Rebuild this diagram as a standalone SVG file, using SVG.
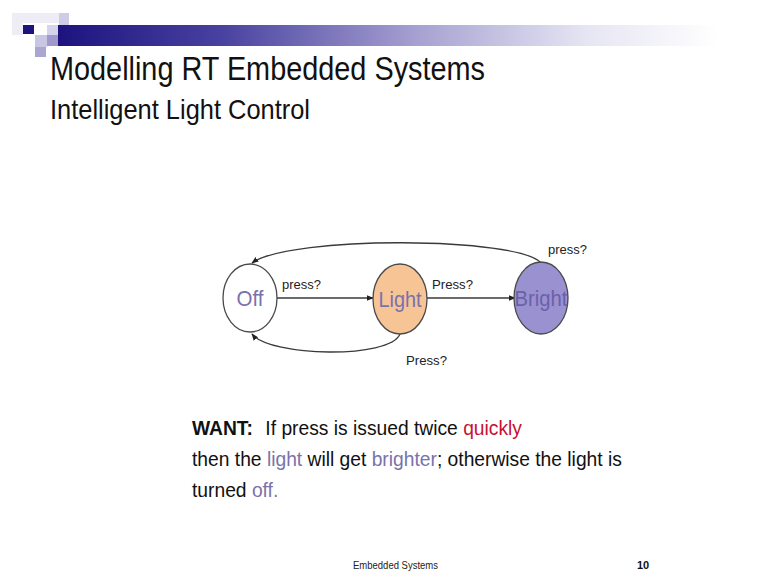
<svg xmlns="http://www.w3.org/2000/svg" width="767" height="578" viewBox="0 0 767 578">
  <defs>
    <linearGradient id="barGrad" x1="0" y1="0" x2="1" y2="0">
      <stop offset="0" stop-color="#1c137f"/>
      <stop offset="0.25" stop-color="#4a42a0"/>
      <stop offset="0.55" stop-color="#a7a3d2"/>
      <stop offset="0.8" stop-color="#e6e5f3"/>
      <stop offset="1" stop-color="#ffffff"/>
    </linearGradient>
    <marker id="arrow" viewBox="0 0 10 10" refX="9" refY="5" markerWidth="7" markerHeight="7" markerUnits="userSpaceOnUse" orient="auto">
      <path d="M0,1 L10,5 L0,9 Z" fill="#222"/>
    </marker>
    <style>
      .state { stroke: #4a4a4a; stroke-width: 1.3; }
      .stateLabel { font-family: "Liberation Sans", Arial, sans-serif; font-size: 22px; text-anchor: middle; }
      .edge { fill: none; stroke: #3a3a3a; stroke-width: 1.3; marker-end: url(#arrow); }
      .edgeLabel { font-family: "Liberation Sans", Arial, sans-serif; font-size: 13.5px; fill: #222; }
      .body { font-family: "Liberation Sans", Arial, sans-serif; font-size: 21px; fill: #111; }
      .accent { fill: #7a72ac; }
      .warn { fill: #c8112f; }
    </style>
  </defs>

  <rect width="767" height="578" fill="#ffffff"/>

  <!-- header decoration -->
  <g id="header">
    <rect x="12" y="13" width="48" height="10" fill="#eeedf6"/>
    <rect x="12" y="13" width="11" height="22" fill="#eeedf6"/>
    <rect x="59" y="13" width="10" height="12" fill="#cfcce6"/>
    <rect x="58" y="25" width="660" height="21" fill="url(#barGrad)"/>
    <rect x="23" y="25" width="11" height="9" fill="#1c137f"/>
    <rect x="47" y="25" width="11" height="10" fill="#d6d4ea"/>
    <rect x="35" y="35" width="12" height="12" fill="#c9c6e3"/>
    <rect x="47" y="35" width="11" height="11" fill="#9f9acb"/>
    <rect x="35" y="47" width="11" height="10" fill="#aaa5d1"/>
  </g>

  <g id="title">
    <text x="50" y="80" font-family="'Liberation Sans', Arial, sans-serif" font-size="34" fill="#111" textLength="435" lengthAdjust="spacingAndGlyphs">Modelling RT Embedded Systems</text>
    <text x="50" y="119" font-family="'Liberation Sans', Arial, sans-serif" font-size="28" fill="#111" textLength="260" lengthAdjust="spacingAndGlyphs">Intelligent Light Control</text>
  </g>

  <!-- transitions -->
  <g id="connectors">
    <path class="edge" d="M277,298 L373,298"/>
    <path class="edge" d="M427,298 L515,298"/>
    <path class="edge" d="M541,263 C520,237 290,235 252,263"/>
    <path class="edge" d="M400,334 C390,359 270,357 252,334"/>
    <text class="edgeLabel" x="282" y="289" textLength="39" lengthAdjust="spacingAndGlyphs">press?</text>
    <text class="edgeLabel" x="432" y="289" textLength="41" lengthAdjust="spacingAndGlyphs">Press?</text>
    <text class="edgeLabel" x="548" y="254" textLength="39" lengthAdjust="spacingAndGlyphs">press?</text>
    <text class="edgeLabel" x="406" y="365" textLength="41" lengthAdjust="spacingAndGlyphs">Press?</text>
  </g>

  <!-- states -->
  <g id="state-off">
    <ellipse class="state" cx="250" cy="298" rx="27" ry="34" fill="#ffffff"/>
    <text class="stateLabel accent" x="250" y="306" textLength="27" lengthAdjust="spacingAndGlyphs">Off</text>
  </g>
  <g id="state-light">
    <ellipse class="state" cx="400" cy="299" rx="27" ry="35" fill="#f7c496"/>
    <text class="stateLabel accent" x="400" y="307" textLength="43" lengthAdjust="spacingAndGlyphs">Light</text>
  </g>
  <g id="state-bright">
    <ellipse class="state" cx="541" cy="298" rx="27" ry="36" fill="#9a92d0"/>
    <text class="stateLabel" x="541" y="306" fill="#6a61a8" textLength="53" lengthAdjust="spacingAndGlyphs">Bright</text>
  </g>

  <!-- requirement text, narrowed horizontally as a block -->
  <g id="requirement" transform="translate(192,0) scale(0.917,1) translate(-192,0)">
    <text class="body" x="192" y="435"><tspan font-weight="bold">WANT:</tspan><tspan x="272">If press is issued twice </tspan><tspan class="warn">quickly</tspan></text>
    <text class="body" x="192" y="466">then the <tspan class="accent">light</tspan> will get <tspan class="accent">brighter</tspan>; otherwise the light is</text>
    <text class="body" x="192" y="497">turned <tspan class="accent">off.</tspan></text>
  </g>

  <g id="footer">
    <text x="353" y="569" font-family="'Liberation Sans', Arial, sans-serif" font-size="10.5" fill="#222" textLength="85" lengthAdjust="spacingAndGlyphs">Embedded Systems</text>
    <text x="637" y="569" font-family="'Liberation Sans', Arial, sans-serif" font-size="11" font-weight="bold" fill="#111">10</text>
  </g>
</svg>
